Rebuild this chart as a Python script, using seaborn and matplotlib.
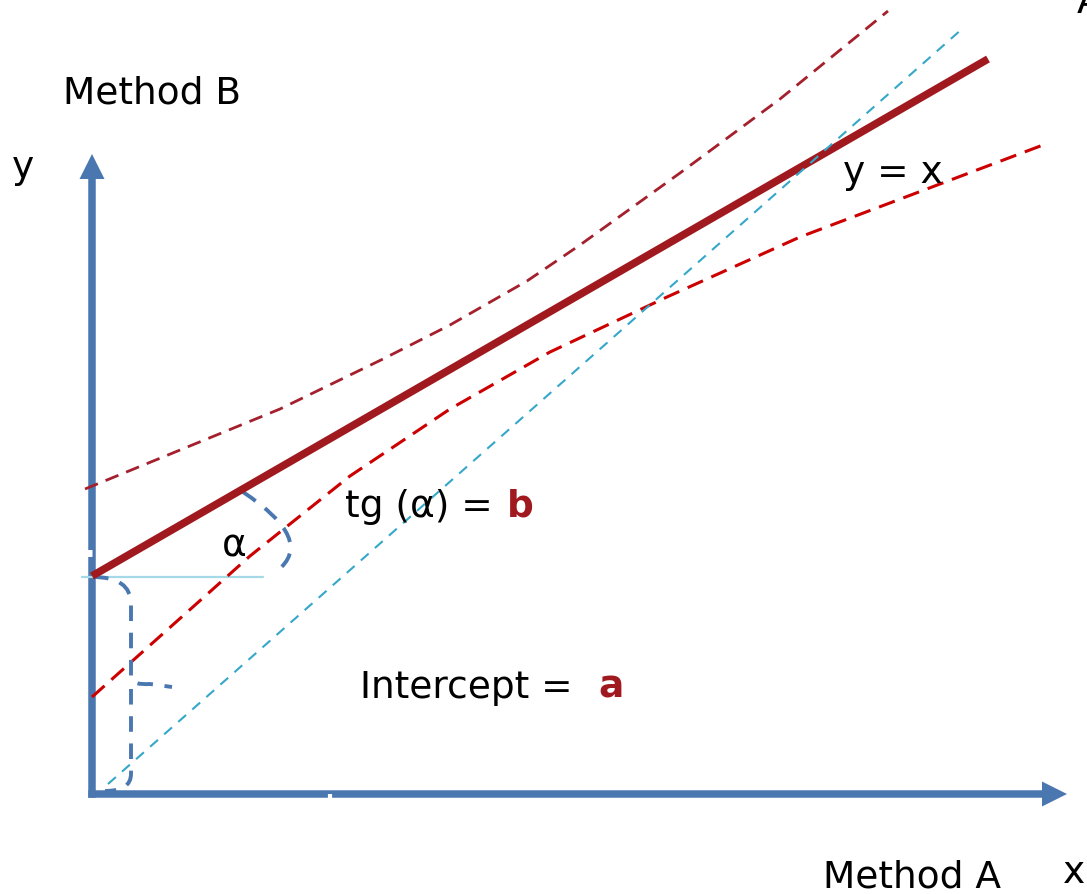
import matplotlib
matplotlib.use("Agg")
import matplotlib.pyplot as plt
import seaborn as sns
import pandas as pd
from matplotlib.path import Path
from matplotlib.patches import PathPatch

# ---- data (diagram units, origin where the two axes meet) ----
reg_x = [0.0, 8.96]
reg_y = [2.18, 7.35]
upper_x = [-0.07, 1.88, 2.91, 3.58, 4.35, 4.88, 5.88, 6.88, 7.96]
upper_y = [3.05, 3.85, 4.35, 4.69, 5.13, 5.49, 6.21, 6.95, 7.83]
lower_x = [0.0, 1.58, 2.58, 3.58, 4.58, 5.75, 7.08, 9.51]
lower_y = [0.97, 2.38, 3.18, 3.85, 4.42, 4.97, 5.57, 6.49]
identity_x = [0.16, 8.70]
identity_y = [0.10, 7.65]
axis_x_len = 9.75
axis_y_len = 6.40

BLUE = "#4A77B0"
REG = "#A0191F"
UPPER = "#A3202C"
LOWER = "#CC0000"
CYAN = "#35A7C9"
LIGHT = "#A6D9E8"

sns.set_theme(style="white")
plt.rcParams["font.family"] = ["DejaVu Sans"]

fig = plt.figure(figsize=(10.87, 8.95), dpi=100)
ax = fig.add_axes([0, 0, 1, 1])
ax.set_xlim(-0.92, 9.95)
ax.set_ylim(-1.00, 7.95)
ax.axis("off")

# axes arrows
ax.arrow(-0.037, 0, axis_x_len + 0.037, 0, width=0.075, head_width=0.25,
         head_length=0.25, length_includes_head=True, color=BLUE, lw=0, zorder=2)
ax.arrow(0, -0.037, 0, axis_y_len + 0.037, width=0.075, head_width=0.25,
         head_length=0.25, length_includes_head=True, color=BLUE, lw=0, zorder=2)
# small white notches on axes
ax.plot([-0.05, 0.0], [2.41, 2.41], color="white", lw=5, solid_capstyle="butt", zorder=3)
ax.plot([2.38, 2.38], [-0.05, 0.0], color="white", lw=3, solid_capstyle="butt", zorder=3)

# horizontal reference at intercept
sns.lineplot(x=[-0.10, 1.71], y=[reg_y[0] - 0.01] * 2, ax=ax, color=LIGHT, lw=1.6, zorder=3)

# confidence curves
up = pd.DataFrame({"x": upper_x, "y": upper_y})
lo = pd.DataFrame({"x": lower_x, "y": lower_y})
sns.lineplot(data=up, x="x", y="y", sort=False, ax=ax, color=UPPER, lw=2.0, zorder=4)
ax.lines[-1].set_dashes((5, 3))
sns.lineplot(data=lo, x="x", y="y", sort=False, ax=ax, color=LOWER, lw=2.2, zorder=4)
ax.lines[-1].set_dashes((5.5, 3))

# regression line
sns.lineplot(x=reg_x, y=reg_y, ax=ax, color=REG, lw=5.5, zorder=5)
ax.lines[-1].set_solid_capstyle("butt")

# identity line
sns.lineplot(x=identity_x, y=identity_y, ax=ax, color=CYAN, lw=1.5, zorder=6)
ax.lines[-1].set_dashes((5, 4))

# alpha arc
arc = Path([(1.51, 3.02), (2.24, 2.535), (1.85, 2.23)],
           [Path.MOVETO, Path.CURVE3, Path.CURVE3])
ax.add_patch(PathPatch(arc, fill=False, edgecolor=BLUE, lw=2.8,
                       linestyle=(0, (4, 3)), zorder=4))

# intercept brace
b1 = Path([(0.01, 2.17), (0.39, 2.17), (0.39, 1.90), (0.39, 1.15),
           (0.41, 1.09), (0.58, 1.10), (0.80, 1.07)],
          [Path.MOVETO, Path.CURVE3, Path.CURVE3, Path.LINETO,
           Path.CURVE3, Path.CURVE3, Path.LINETO])
b2 = Path([(0.39, 1.05), (0.39, 0.20), (0.39, 0.03), (0.13, 0.03)],
          [Path.MOVETO, Path.LINETO, Path.CURVE3, Path.CURVE3])
for p in (b1, b2):
    ax.add_patch(PathPatch(p, fill=False, edgecolor=BLUE, lw=2.8,
                           linestyle=(0, (4, 3)), zorder=4))

# texts
fs = 27
tk = dict(ha="left", va="baseline", fontsize=fs, color="black", zorder=7)
ax.text(-0.29, 6.91, "Method B", **tk)
ax.text(-0.80, 6.17, "y", **tk)
ax.text(7.51, 6.12, "y = x", **tk)
ax.text(2.53, 2.78, "tg (α) = ", **tk)
ax.text(4.15, 2.78, "b", ha="left", va="baseline", fontsize=fs, color=REG,
        fontweight="bold", zorder=7)
ax.text(1.30, 2.38, "α", **tk)
ax.text(2.68, 0.97, "Intercept = ", **tk)
ax.text(5.06, 0.97, "a", ha="left", va="baseline", fontsize=fs, color=REG,
        fontweight="bold", zorder=7)
ax.text(7.31, -0.93, "Method A", **tk)
ax.text(9.71, -0.88, "x", **tk)
ax.text(9.85, 7.82, "A", **tk)

fig.savefig("out.png", dpi=100)
